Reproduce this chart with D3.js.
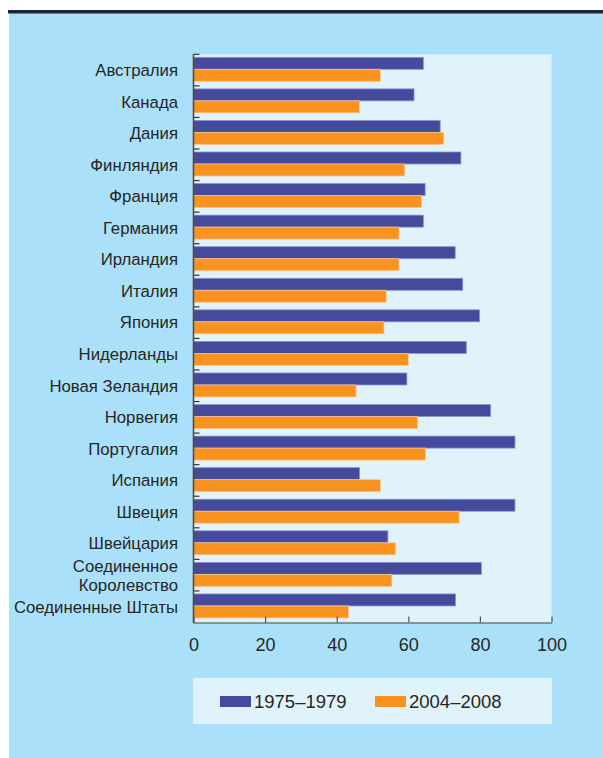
<!DOCTYPE html>
<html>
<head>
<meta charset="utf-8">
<script src="https://cdn.jsdelivr.net/npm/d3@7"></script>
<style>
  html, body { margin: 0; padding: 0; background: #ffffff; }
  svg { display: block; }
  text { font-family: "Liberation Sans", Arial, Helvetica, sans-serif; fill: #262626; }
</style>
</head>
<body>
<svg id="chart" width="603" height="758"></svg>
<script>
// Countries (top to bottom)
const countries = [
  "Австралия", "Канада", "Дания", "Финляндия", "Франция", "Германия",
  "Ирландия", "Италия", "Япония", "Нидерланды", "Новая Зеландия", "Норвегия",
  "Португалия", "Испания", "Швеция", "Швейцария", "Соединенное Королевство",
  "Соединенные Штаты"
];
// Series labels
const seriesNames = ["1975–1979", "2004–2008"];
// Values for 1975–1979
const values1975 = [64.2, 61.6, 68.9, 74.7, 64.7, 64.2, 73.1, 75.2, 79.9, 76.2, 59.6, 83.0, 89.8, 46.4, 89.8, 54.3, 80.4, 73.2];
// Values for 2004–2008
const values2004 = [52.2, 46.4, 69.9, 59.0, 63.7, 57.4, 57.4, 53.8, 53.2, 60.0, 45.4, 62.6, 64.8, 52.2, 74.2, 56.4, 55.4, 43.3];
// Horizontal axis ticks
const xTicks = [0, 20, 40, 60, 80, 100];

const colors = { "1975–1979": "#464a9c", "2004–2008": "#f7931e" };
const strokes = { "1975–1979": "#8d92d0", "2004–2008": "#fbc58a" };

const rows = countries.map((c, i) => ({
  country: c,
  vals: [
    { key: seriesNames[0], value: values1975[i] },
    { key: seriesNames[1], value: values2004[i] }
  ]
}));

const svg = d3.select("#chart");

// Outer panel and rule on top
svg.append("rect").attr("x", 9).attr("y", 13).attr("width", 594).attr("height", 745).attr("fill", "#abe0fa");
svg.append("rect").attr("x", 8).attr("y", 10).attr("width", 595).attr("height", 3.5).attr("fill", "#1d2630");

const plot = { left: 193.5, right: 551.5, top: 54.3, bottom: 622.5 };

const x = d3.scaleLinear().domain([0, 100]).range([plot.left, plot.right]);
const y = d3.scaleBand().domain(countries).range([plot.top, plot.bottom]);
const ySub = d3.scaleBand().domain(seriesNames).range([3, 27]);

// Plot background
svg.append("rect")
  .attr("x", plot.left).attr("y", plot.top)
  .attr("width", plot.right - plot.left).attr("height", plot.bottom - plot.top)
  .attr("fill", "#e0f3fb");

// Bars
const groups = svg.append("g").selectAll("g").data(rows).join("g")
  .attr("transform", d => `translate(0,${y(d.country)})`);

groups.selectAll("rect").data(d => d.vals).join("rect")
  .attr("x", x(0))
  .attr("y", d => ySub(d.key))
  .attr("width", d => x(d.value) - x(0))
  .attr("height", ySub.bandwidth())
  .attr("fill", d => colors[d.key])
  .attr("stroke", d => strokes[d.key])
  .attr("stroke-width", 0.8);

// Category labels
const labelG = svg.append("g");
rows.forEach(d => {
  const cy = y(d.country) + y.bandwidth() / 2;
  const t = labelG.append("text")
    .attr("x", 178)
    .attr("text-anchor", "end")
    .style("font-size", "16.75px");
  if (d.country === "Соединенное Королевство") {
    t.append("tspan").attr("x", 178).attr("y", cy - 9.5).attr("dy", "0.35em").text("Соединенное");
    t.append("tspan").attr("x", 178).attr("y", cy + 9.5).attr("dy", "0.35em").text("Королевство");
  } else {
    t.attr("y", cy).attr("dy", "0.35em").text(d.country);
  }
});

// X axis
const xAxis = svg.append("g")
  .attr("transform", `translate(0,${plot.bottom})`)
  .call(d3.axisBottom(x).tickValues(xTicks).tickSize(-6).tickSizeOuter(0).tickFormat(d3.format("d")));
xAxis.select(".domain").attr("stroke", "#777777").attr("stroke-width", 1.6);
xAxis.selectAll(".tick line").attr("stroke", "#555555").attr("stroke-width", 1.2);
xAxis.selectAll(".tick text")
  .attr("y", 15.5)
  .style("font-size", "18px")
  .attr("fill", "#262626");

// Y axis line and category boundary ticks
const yBounds = countries.map(c => y(c));
svg.append("g").selectAll("line").data(yBounds).join("line")
  .attr("x1", x(0)).attr("x2", x(0) + 6)
  .attr("y1", d => d).attr("y2", d => d)
  .attr("stroke", "#333333").attr("stroke-width", 1.2);
svg.append("line")
  .attr("x1", x(0)).attr("x2", x(0))
  .attr("y1", plot.top).attr("y2", plot.bottom + 0.8)
  .attr("stroke", "#5a4a3a").attr("stroke-width", 1.6);

// Legend
const legend = svg.append("g");
legend.append("rect")
  .attr("x", 193).attr("y", 678).attr("width", 359).attr("height", 46)
  .attr("fill", "#e0f3fb");
const legendItems = [
  { key: seriesNames[0], sx: 220 },
  { key: seriesNames[1], sx: 375 }
];
legendItems.forEach(it => {
  legend.append("rect")
    .attr("x", it.sx).attr("y", 696).attr("width", 31).attr("height", 11)
    .attr("fill", colors[it.key]);
  legend.append("text")
    .attr("x", it.sx + 34).attr("y", 701.5).attr("dy", "0.35em")
    .style("font-size", "18.5px")
    .text(it.key);
});
</script>
</body>
</html>
